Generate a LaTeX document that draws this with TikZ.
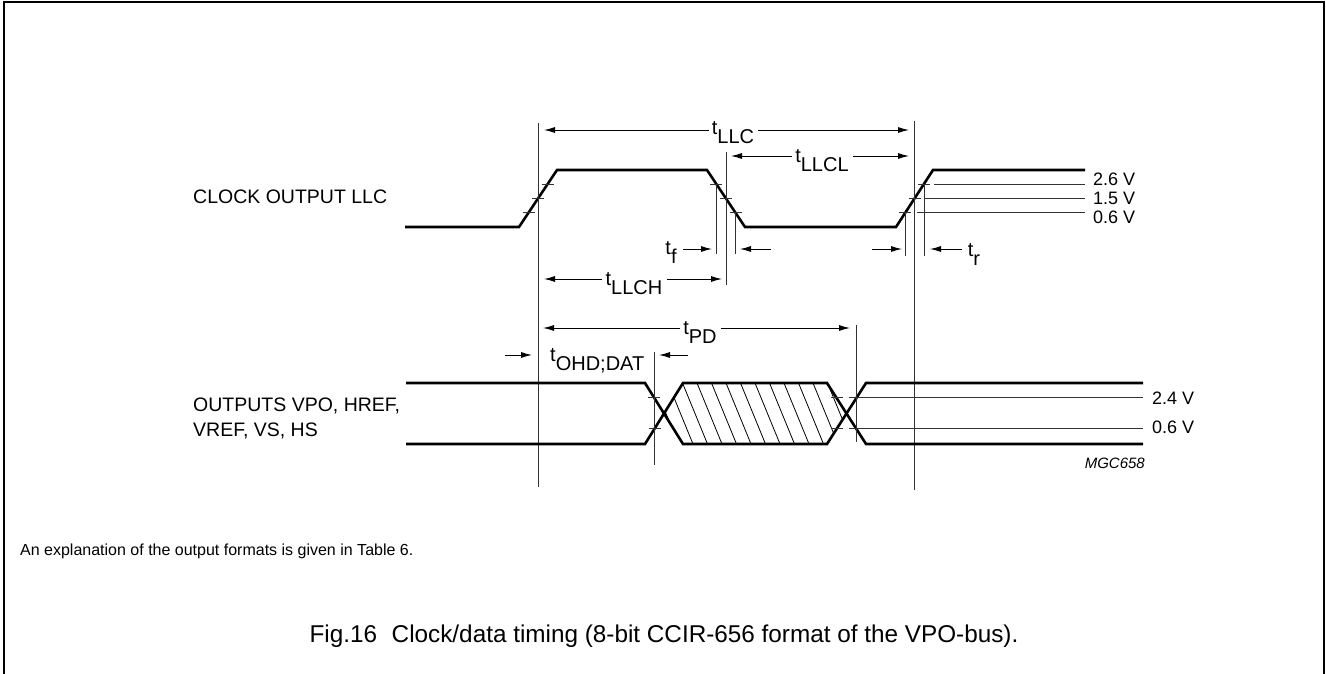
\documentclass[tikz,border=0pt]{standalone}
\usepackage{fontspec}
\setmainfont{Liberation Sans}
\usetikzlibrary{arrows.meta}
\newcommand{\tl}[1]{t\raisebox{-0.45em}{#1}}
\begin{document}
\begin{tikzpicture}[x=1pt,y=-1pt,
  wave/.style={line width=2.6pt,line join=miter},
  thin/.style={line width=0.9pt,black!80},
  tick/.style={line width=0.9pt,black!80},
  dim/.style={line width=0.9pt,-{Latex[length=11pt,width=6pt]}},
  lbl/.style={inner sep=0pt,font=\fontsize{19.5}{22}\selectfont},
  vlbl/.style={inner sep=0pt,font=\fontsize{18}{20}\selectfont},
  tlbl/.style={inner sep=0pt,font=\fontsize{20}{22}\selectfont},
  small/.style={inner sep=0pt,font=\fontsize{16}{19}\selectfont}]
\useasboundingbox (0,0) rectangle (1326,674);
% frame
\draw[line width=2pt] (4,674) -- (4,2) -- (1323.5,2) -- (1323.5,674);

% ---------- clock ----------
\draw[wave] (405,227) -- (519,227) -- (557,170) -- (707,170) -- (745,227) -- (896,227) -- (933,170) -- (1085,170);
% ticks on edges
\foreach \x/\y in {547.7/184,538/198.5,528.7/212.5, 716.3/184,726/198.5,735.7/212.5, 924/184,914.5/198.5,905.4/212.5}
  \draw[tick] (\x-6,\y) -- (\x+6,\y);
% threshold lines
\draw[thin] (934,184) -- (1085,184);
\draw[thin] (924,198.5) -- (1085,198.5);
\draw[thin] (917,212.5) -- (1085,212.5);
\node[vlbl,anchor=west] (v26) at (1093,179) {2.6 V};
\node[vlbl,anchor=west] (v15) at (1093,198) {1.5 V};
\node[vlbl,anchor=west] (v06) at (1093,217) {0.6 V};

% vertical reference lines
\draw[thin] (538,123) -- (538,487);
\draw[thin] (726,152) -- (726,285);
\draw[thin] (716.5,184) -- (716.5,254);
\draw[thin] (735.7,212) -- (735.7,254);
\draw[thin] (905.5,212) -- (905.5,256);
\draw[thin] (914.5,121) -- (914.5,490);
\draw[thin] (924,184) -- (924,256);

% labels
\node[lbl,anchor=west] (clk) at (193,197) {CLOCK OUTPUT LLC};

% tLLC
\node[tlbl] (tllc) at (733,133) {\tl{LLC}};
\coordinate (tllcL) at (544,130);
\coordinate (tllcR) at (909,130);
\draw[dim] (tllc.west|-tllcL) ++(-3,0) -- (tllcL);
\draw[dim] (tllc.east|-tllcR) ++(4,0) -- (tllcR);
% tLLCL
\node[tlbl] (tllcl) at (822,161) {\tl{LLCL}};
\coordinate (tllclL) at (731,156);
\coordinate (tllclR) at (909,156);
\draw[dim] (tllcl.west|-tllclL) ++(-3,0) -- (tllclL);
\draw[dim] (tllcl.east|-tllclR) ++(4,0) -- (tllclR);
% tLLCH
\node[tlbl] (tllch) at (634,284) {\tl{LLCH}};
\coordinate (tllchL) at (544,279);
\coordinate (tllchR) at (722,279);
\draw[dim] (tllch.west|-tllchL) ++(-3,0) -- (tllchL);
\draw[dim] (tllch.east|-tllchR) ++(4,0) -- (tllchR);
% tf
\node[tlbl] (tf) at (671,253) {\tl{f}};
\coordinate (tfA) at (712,249);
\coordinate (tfB0) at (771,249);
\coordinate (tfB) at (740,249);
\draw[dim] (tf.east|-tfA) ++(6,0) -- (tfA);
\draw[dim] (tfB0) -- (tfB);
% tr
\node[tlbl] (tr) at (974,255) {\tl{r}};
\coordinate (trA0) at (872,249);
\coordinate (trA) at (902,249);
\coordinate (trB) at (930,249);
\draw[dim] (trA0) -- (trA);
\draw[dim] (tr.west|-trB) ++(-6,0) -- (trB);

% ---------- data ----------
\begin{scope}
  \clip (664,413.5) -- (683,383) -- (827,383) -- (846.5,413.5) -- (827,444) -- (683,444) -- cycle;
  \foreach \i in {0,...,22}
    \draw[line width=0.8pt] (610+\i*14.5,383) -- ++(25,61);
\end{scope}
\draw[wave] (406,383) -- (645,383) -- (683,444) -- (827,444) -- (866,383) -- (1143,383);
\draw[wave] (406,444) -- (645,444) -- (683,383) -- (827,383) -- (866,444) -- (1143,444);
% ticks
\draw[tick] (648,397) -- (660,397);
\draw[tick] (649,428) -- (661,428);
\draw[tick] (831,397) -- (843,397);
\draw[tick] (831,428) -- (843,428);
% thresholds
\draw[thin] (849,397) -- (1143,397);
\draw[thin] (849,428) -- (1143,428);
\node[vlbl,anchor=west] (v24) at (1152,398) {2.4 V};
\node[vlbl,anchor=west] (v06b) at (1152,427) {0.6 V};
% verticals
\draw[thin] (654,352) -- (654,465);
\draw[thin] (856,325) -- (856,442);

\node[lbl,anchor=west] (out1) at (193,406) {OUTPUTS VPO, HREF,};
\node[lbl,anchor=west] (out2) at (193,431) {VREF, VS, HS};

% tPD
\node[tlbl] (tpd) at (700,333) {\tl{PD}};
\coordinate (tpdL) at (543,328);
\coordinate (tpdR) at (850,328);
\draw[dim] (tpd.west|-tpdL) ++(-3,0) -- (tpdL);
\draw[dim] (tpd.east|-tpdR) ++(4,0) -- (tpdR);
% tOHD;DAT
\node[tlbl,anchor=west] (tohd) at (550,361) {\tl{OHD;DAT}};
\coordinate (tohdA0) at (505,355);
\coordinate (tohdA) at (532,355);
\coordinate (tohdB0) at (688,355);
\coordinate (tohdB) at (659,355);
\draw[dim] (tohdA0) -- (tohdA);
\draw[dim] (tohdB0) -- (tohdB);

\node[inner sep=0pt,anchor=east,font=\fontsize{15}{17}\selectfont\itshape] (mgc) at (1145,463) {MGC658};

% texts
\node[small,anchor=west] (expl) at (20,551) {An explanation of the output formats is given in Table 6.};
\node[inner sep=0pt,font=\fontsize{24.3}{28}\selectfont] (cap) at (664,636) {Fig.16\hspace{0.6em}Clock/data timing (8-bit CCIR-656 format of the VPO-bus).};
\end{tikzpicture}
\end{document}
